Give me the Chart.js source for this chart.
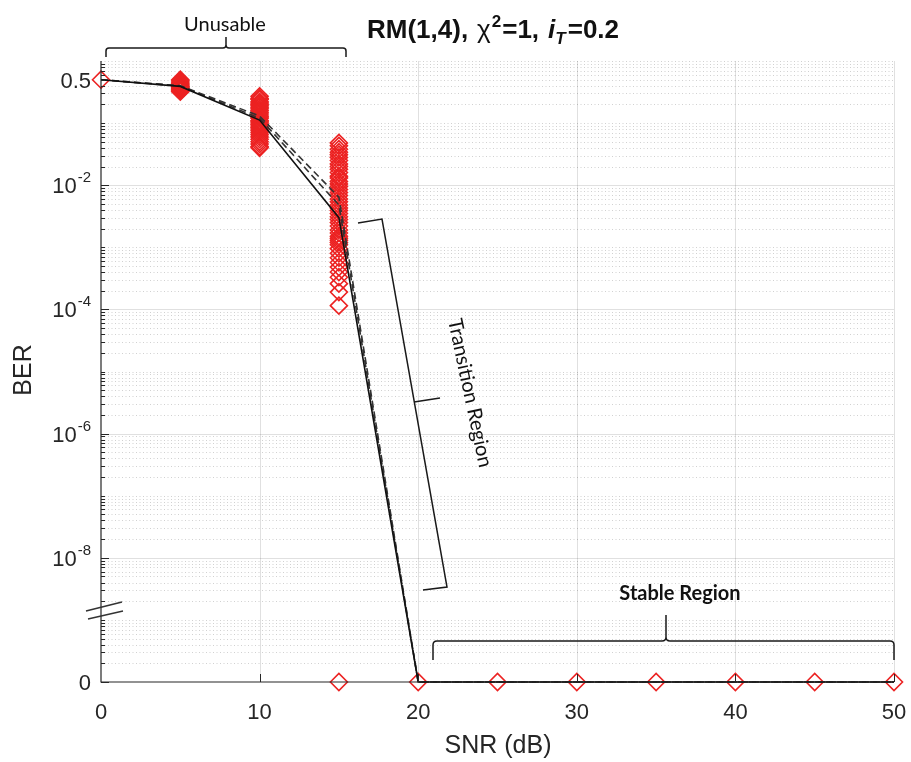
<!DOCTYPE html>
<html>
<head>
<meta charset="utf-8">
<script src="https://cdn.jsdelivr.net/npm/chart.js@4/dist/chart.umd.min.js"></script>
<style>
  html, body { margin: 0; padding: 0; background: #ffffff; }
  #wrap { width: 911px; height: 762px; position: relative; }
</style>
</head>
<body>
<div id="wrap"><canvas id="ber" width="911" height="762"></canvas></div>
<script>
// BER vs SNR for RM(1,4); a BER of exactly 0 sits on the broken bottom of the log axis.
const ZERO_BER = 1e-10;

// Mean BER curves (one solid, two dashed), sampled every 5 dB
const snrGrid  = [0, 5, 10, 15, 20, 25, 30, 35, 40, 45, 50];
const berSolid = [0.5, 0.39, 0.112, 3.0e-3, 0, 0, 0, 0, 0, 0, 0];
const berDashA = [0.5, 0.40, 0.130, 6.4e-3, 0, 0, 0, 0, 0, 0, 0];
const berDashB = [0.5, 0.395, 0.120, 4.8e-3, 0, 0, 0, 0, 0, 0, 0];

// Individual trial BERs at each SNR
const trialSnr = [0, 5, 10, 15, 20, 25, 30, 35, 40, 45, 50];
const trialBer = [
  [0.5],
  [0.5, 0.48, 0.46, 0.44, 0.42, 0.40, 0.39, 0.38, 0.37, 0.36, 0.35, 0.34, 0.33, 0.32],
  [0.27, 0.25, 0.24, 0.22, 0.21, 0.20, 0.19, 0.18, 0.17, 0.16, 0.15, 0.14, 0.13, 0.125, 0.12,
   0.11, 0.105, 0.10, 0.095, 0.09, 0.085, 0.08, 0.075, 0.07, 0.065, 0.06, 0.055, 0.05, 0.046, 0.042, 0.04],
  [0.048, 0.043, 0.038, 0.034, 0.031, 0.028, 0.025, 0.022, 0.020, 0.018, 0.016, 0.014, 0.013,
   0.0115, 0.0105, 0.0095, 0.0085, 0.0076, 0.0068, 0.006, 0.0054, 0.0048, 0.0043, 0.0039, 0.0035,
   0.0031, 0.0028, 0.0025, 0.0022, 0.0019, 0.0017, 0.0015, 0.0014, 0.0013, 0.0012, 0.0011,
   0.00095, 0.0008, 0.00068, 0.00057, 0.00048, 0.0004, 0.00033, 0.00026, 0.00019, 0.000115, 0],
  [0], [0], [0], [0], [0], [0], [0]
];

// Axis ticks
const xTicks = [0, 10, 20, 30, 40, 50];
const yTickValues = [0, 1e-8, 1e-6, 1e-4, 1e-2, 0.5];
const yTickBase   = ['0', '10', '10', '10', '10', '0.5'];
const yTickExp    = ['', '-8', '-6', '-4', '-2', ''];

const toAxis = v => (v === 0 ? ZERO_BER : v);
const curve = ys => snrGrid.map((x, i) => ({ x, y: toAxis(ys[i]) }));
const trialPoints = [];
trialSnr.forEach((x, i) => trialBer[i].forEach(v => trialPoints.push({ x, y: toAxis(v) })));

const AXIS_COLOR = '#262626';
const TICK_FONT = '"Liberation Sans", Arial, sans-serif';
const NOTE_FONT = 'Lato, "Open Sans", sans-serif';

function line(ctx, pts) {
  ctx.beginPath();
  ctx.moveTo(pts[0][0], pts[0][1]);
  for (let i = 1; i < pts.length; i++) ctx.lineTo(pts[i][0], pts[i][1]);
  ctx.stroke();
}

const decorations = {
  id: 'decorations',
  beforeDatasetsDraw(chart) {
    const { ctx, chartArea: a, scales: { x, y } } = chart;
    ctx.save();
    // minor dotted grid: 2..9 of every decade and the odd decades
    ctx.lineWidth = 1;
    ctx.strokeStyle = 'rgba(0,0,0,0.18)';
    ctx.setLineDash([1, 2.5]);
    for (let d = -10; d <= 0; d++) {
      for (let m = 1; m <= 9; m++) {
        if (d === 0 && m > 1) break;
        if (m === 1 && d % 2 === 0 && d !== 0) continue;
        if (m === 1 && d === -10) continue;
        const py = Math.round(y.getPixelForValue(m * Math.pow(10, d))) + 0.5;
        line(ctx, [[a.left, py], [a.right, py]]);
      }
    }
    ctx.setLineDash([]);
    // major grid
    ctx.strokeStyle = 'rgba(0,0,0,0.12)';
    [1e-8, 1e-6, 1e-4, 1e-2].forEach(v => {
      const py = Math.round(y.getPixelForValue(v)) + 0.5;
      line(ctx, [[a.left, py], [a.right, py]]);
    });
    xTicks.slice(1).forEach(v => {
      const px = Math.round(x.getPixelForValue(v)) + 0.5;
      line(ctx, [[px, a.top], [px, a.bottom]]);
    });
    ctx.restore();
  },
  afterDraw(chart) {
    const { ctx, chartArea: a, scales: { x, y } } = chart;
    ctx.save();
    // axes
    ctx.strokeStyle = AXIS_COLOR;
    ctx.lineWidth = 1.2;
    line(ctx, [[a.left, a.top], [a.left, a.bottom], [a.right, a.bottom]]);
    // inward ticks
    ctx.lineWidth = 1;
    for (let d = -10; d <= -1; d++) {
      for (let m = 1; m <= 9; m++) {
        const v = m * Math.pow(10, d);
        const major = (m === 1 && d % 2 === 0);
        const py = Math.round(y.getPixelForValue(v)) + 0.5;
        line(ctx, [[a.left, py], [a.left + (major ? 8 : 4), py]]);
      }
    }
    xTicks.slice(1).forEach(v => {
      const px = Math.round(x.getPixelForValue(v)) + 0.5;
      line(ctx, [[px, a.bottom], [px, a.bottom - 8]]);
    });
    // axis break
    ctx.strokeStyle = '#333';
    ctx.lineWidth = 1.4;
    line(ctx, [[86, 611], [122, 602]]);
    line(ctx, [[88, 619], [123, 611]]);

    // tick labels
    ctx.fillStyle = AXIS_COLOR;
    ctx.textBaseline = 'alphabetic';
    ctx.textAlign = 'center';
    ctx.font = '22px ' + TICK_FONT;
    xTicks.forEach(v => ctx.fillText(String(v), x.getPixelForValue(v), 719));
    ctx.textAlign = 'left';
    yTickValues.forEach((v, i) => {
      const py = y.getPixelForValue(toAxis(v));
      ctx.font = '22px ' + TICK_FONT;
      const wb = ctx.measureText(yTickBase[i]).width;
      ctx.font = '15px ' + TICK_FONT;
      const we = yTickExp[i] ? ctx.measureText(yTickExp[i]).width + 1 : 0;
      const left = 91 - wb - we;
      ctx.font = '22px ' + TICK_FONT;
      ctx.fillText(yTickBase[i], left, py + 8);
      if (yTickExp[i]) {
        ctx.font = '15px ' + TICK_FONT;
        ctx.fillText(yTickExp[i], left + wb + 1, py - 3);
      }
    });

    // axis titles
    ctx.font = '25px ' + TICK_FONT;
    ctx.textAlign = 'center';
    ctx.textBaseline = 'middle';
    ctx.fillText('SNR (dB)', 498, 746);
    ctx.save();
    ctx.translate(24, 370);
    ctx.rotate(-Math.PI / 2);
    ctx.fillText('BER', 0, 0);
    ctx.restore();

    // title with super/subscripts
    ctx.fillStyle = '#111';
    ctx.textAlign = 'left';
    ctx.textBaseline = 'alphabetic';
    const parts = [
      ['RM(1,4),', 'bold 26px', 0, 9],
      ['\u03C7', '26px', 0, 1],
      ['2', 'bold 17px', -11, 1],
      ['=1,', 'bold 26px', 0, 9],
      ['i', 'italic bold 26px', 0, 0],
      ['T', 'italic bold 17px', 6, 2],
      ['=0.2', 'bold 26px', 0, 0]
    ];
    let tx = 367;
    parts.forEach(([t, f, dy, gap]) => {
      ctx.font = f + ' ' + TICK_FONT;
      ctx.fillText(t, tx, 38 + dy);
      tx += ctx.measureText(t).width + gap;
    });

    // region brackets
    ctx.strokeStyle = '#1a1a1a';
    ctx.lineWidth = 1.5;
    // Unusable
    ctx.beginPath();
    ctx.moveTo(106, 57); ctx.lineTo(106, 51); ctx.quadraticCurveTo(106, 48, 109, 48);
    ctx.lineTo(223, 48); ctx.quadraticCurveTo(226, 48, 226, 45); ctx.lineTo(226, 37);
    ctx.moveTo(226, 45); ctx.quadraticCurveTo(226, 48, 229, 48);
    ctx.lineTo(343, 48); ctx.quadraticCurveTo(346, 48, 346, 51); ctx.lineTo(346, 57);
    ctx.stroke();
    // Stable Region
    ctx.beginPath();
    ctx.moveTo(433, 660); ctx.lineTo(433, 645); ctx.quadraticCurveTo(433, 641, 437, 641);
    ctx.lineTo(662, 641); ctx.quadraticCurveTo(666, 641, 666, 637); ctx.lineTo(666, 615);
    ctx.moveTo(666, 637); ctx.quadraticCurveTo(666, 641, 670, 641);
    ctx.lineTo(890, 641); ctx.quadraticCurveTo(894, 641, 894, 645); ctx.lineTo(894, 660);
    ctx.stroke();
    // Transition Region
    line(ctx, [[358, 223], [382, 219], [447, 587], [423, 590]]);
    line(ctx, [[414, 402], [440, 398]]);

    // region labels
    ctx.fillStyle = '#111';
    ctx.textAlign = 'center';
    ctx.textBaseline = 'alphabetic';
    ctx.font = '20px ' + NOTE_FONT;
    ctx.fillText('Unusable', 225, 31);
    ctx.font = 'bold 20px ' + NOTE_FONT;
    ctx.fillText('Stable Region', 680, 600);
    ctx.save();
    ctx.translate(470, 393);
    ctx.rotate(78 * Math.PI / 180);
    ctx.font = '20px ' + NOTE_FONT;
    ctx.textBaseline = 'middle';
    ctx.fillText('Transition Region', 0, 0);
    ctx.restore();

    ctx.restore();
  }
};

new Chart(document.getElementById('ber'), {
  type: 'scatter',
  data: {
    datasets: [
      { label: 'mean', data: curve(berSolid), showLine: true, borderColor: '#111', borderWidth: 1.6,
        pointRadius: 0, order: 0, clip: false },
      { label: 'bound A', data: curve(berDashA), showLine: true, borderColor: '#333', borderWidth: 1.6,
        borderDash: [7, 4], pointRadius: 0, order: 1, clip: false },
      { label: 'bound B', data: curve(berDashB), showLine: true, borderColor: '#333', borderWidth: 1.6,
        borderDash: [7, 4], pointRadius: 0, order: 1, clip: false },
      { label: 'trials', data: trialPoints, showLine: false, pointStyle: 'rectRot', pointRadius: 8.5,
        borderColor: 'rgb(236,34,34)', backgroundColor: 'rgba(0,0,0,0)', borderWidth: 1.6,
        pointHoverRadius: 8.5, order: 5, clip: false }
    ]
  },
  options: {
    responsive: false,
    animation: false,
    events: [],
    layout: { padding: { top: 61, right: 17, left: 0, bottom: 0 } },
    plugins: { legend: { display: false }, tooltip: { enabled: false }, title: { display: false } },
    scales: {
      x: {
        type: 'linear', min: 0, max: 50,
        grid: { display: false }, border: { display: false },
        ticks: { display: false, stepSize: 10 },
        afterFit: s => { s.height = 80; }
      },
      y: {
        type: 'logarithmic', min: ZERO_BER, max: 1, bounds: 'data',
        grid: { display: false }, border: { display: false },
        ticks: { display: false },
        afterFit: s => { s.width = 101; }
      }
    }
  },
  plugins: [decorations]
});
</script>
</body>
</html>
